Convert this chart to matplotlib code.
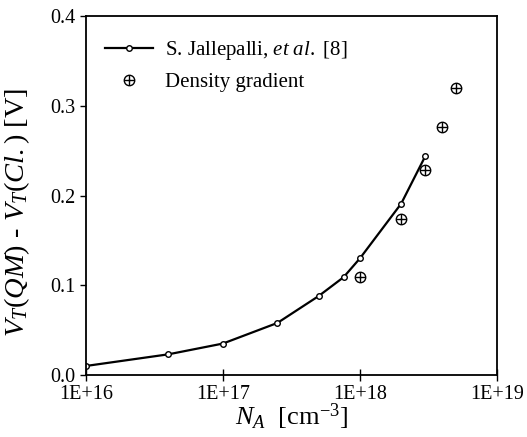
import matplotlib
matplotlib.use("Agg")
import matplotlib.pyplot as plt
from matplotlib.legend_handler import HandlerTuple

plt.rcParams['font.family'] = ['Liberation Serif', 'DejaVu Serif']
plt.rcParams['mathtext.fontset'] = 'custom'
plt.rcParams['mathtext.rm'] = 'Liberation Serif'
plt.rcParams['mathtext.it'] = 'Liberation Serif:italic'

# Data
jal_na = [1e16, 4.0e16, 1e17, 2.5e17, 5.0e17, 7.6e17, 1e18, 2.0e18, 3.0e18]
jal_dv = [0.010, 0.023, 0.035, 0.058, 0.088, 0.109, 0.130, 0.191, 0.244]
dg_na = [1e18, 2e18, 3e18, 4e18, 5e18]
dg_dv = [0.109, 0.174, 0.228, 0.276, 0.320]
xticks = [1e16, 1e17, 1e18, 1e19]
xticklabels = ['1E+16', '1E+17', '1E+18', '1E+19']
yticks = [0.0, 0.1, 0.2, 0.3, 0.4]
yticklabels = ['0.0', '0.1', '0.2', '0.3', '0.4']

fig = plt.figure(figsize=(5.27, 4.37), dpi=100)
ax = fig.add_axes([0.163, 0.142, 0.780, 0.821])

l1, = ax.plot(jal_na, jal_dv, '-', color='black', lw=1.6, marker='o', ms=4,
              mfc='white', mec='black', mew=1.0)
c1, = ax.plot(dg_na, dg_dv, 'o', ms=7.5, mfc='none', mec='black', mew=1.0, ls='none')
p1, = ax.plot(dg_na, dg_dv, '+', ms=7.5, mec='black', mew=1.0, ls='none')

ax.set_xscale('log')
ax.set_xlim(1e16, 1e19)
ax.set_ylim(0.0, 0.4)
ax.set_xticks(xticks)
ax.set_xticklabels(xticklabels)
ax.minorticks_off()
ax.set_yticks(yticks)
ax.set_yticklabels(yticklabels)
ax.tick_params(axis='both', labelsize=14.5, color='black', width=1.0)
ax.tick_params(axis='x', direction='inout', length=8, pad=3)
ax.tick_params(axis='y', direction='out', length=4.5, pad=3)
for s in ax.spines.values():
    s.set_linewidth(1.3)

ax.set_xlabel(r'$N_A$  [cm$^{-3}$]', fontsize=19)
ax.xaxis.set_label_coords(0.5, -0.075)
ax.set_ylabel(r'$V_T(QM)$ - $V_T(Cl.)$ [V]', fontsize=20.5)
ax.yaxis.set_label_coords(-0.13, 0.454)

ax.legend([l1, (c1, p1)],
          [r'S. Jallepalli, $et\ al.$ [8]', 'Density gradient'],
          handler_map={tuple: HandlerTuple(ndivide=1, pad=0)},
          loc='upper left', frameon=False, fontsize=15,
          handlelength=2.3, handletextpad=0.6, labelspacing=0.5,
          borderaxespad=0.0, borderpad=0.0, bbox_to_anchor=(0.046, 0.935))

fig.savefig('out.png', dpi=100)
